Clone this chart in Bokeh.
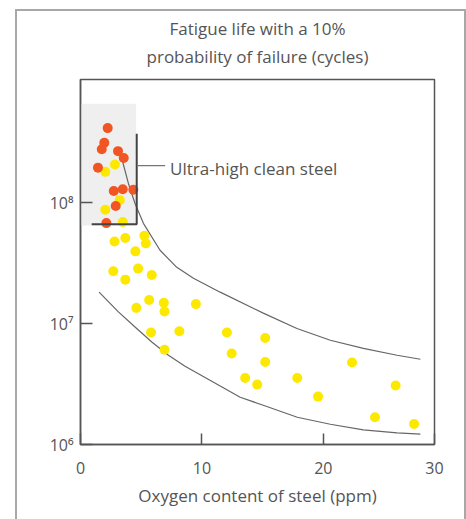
from bokeh.plotting import figure
from bokeh.models import Range1d, FixedTicker, Label, Title
from bokeh.embed import file_html
from bokeh.resources import INLINE

# ---- data ----
TITLE_LINES = ["Fatigue life with a 10%", "probability of failure (cycles)"]
X_LABEL = "Oxygen content of steel (ppm)"
ANNOT_TEXT = "Ultra-high clean steel"

X_TICKS = [0, 10, 20]
X_END = 29.15
X_TICK_LABELS = ["0", "10", "20", "30"]
Y_TICKS = [1e6, 1e7, 1e8]
Y_TICK_LABELS = ["10\u2076", "10\u2077", "10\u2078"]
Y_START = 1e6
Y_END = 1.045e9

ORANGE_PPM = [2.24, 1.96, 1.75, 3.09, 3.56, 1.44, 2.74, 3.48, 4.35, 2.90, 2.13]
ORANGE_CYCLES = [4.14e8, 3.13e8, 2.77e8, 2.67e8, 2.34e8, 1.95e8, 1.25e8, 1.29e8,
                 1.28e8, 9.4e7, 6.78e7]

YELLOW_PPM = [2.84, 2.04, 3.23, 2.04, 3.48, 2.80, 3.69, 5.26, 5.38, 4.52,
              2.70, 4.74, 3.69, 5.87, 5.65, 6.86, 4.60, 6.92, 9.50, 5.81,
              8.14, 12.06, 6.92, 12.45, 15.21, 15.21, 13.56, 14.55, 17.85, 19.56,
              22.36, 25.95, 24.25, 27.47]
YELLOW_CYCLES = [2.07e8, 1.80e8, 1.05e8, 8.75e7, 6.93e7, 4.78e7, 5.10e7, 5.33e7, 4.61e7, 3.96e7,
                 2.71e7, 2.85e7, 2.31e7, 2.52e7, 1.57e7, 1.49e7, 1.35e7, 1.26e7, 1.45e7, 8.43e6,
                 8.64e6, 8.43e6, 6.07e6, 5.65e6, 7.60e6, 4.82e6, 3.55e6, 3.13e6, 3.55e6, 2.49e6,
                 4.76e6, 3.08e6, 1.68e6, 1.48e6]

UPPER_PPM = [3.40, 3.94, 4.49, 5.18, 6.55, 7.93, 9.30, 11.50, 15.05, 17.82,
             20.57, 23.29, 26.07, 27.99]
UPPER_CYCLES = [2.32e8, 1.45e8, 9.86e7, 6.75e7, 4.04e7, 2.92e7, 2.37e7, 1.82e7,
                1.22e7, 9.1e6, 7.28e6, 6.24e6, 5.47e6, 5.07e6]
LOWER_PPM = [1.53, 3.12, 4.49, 5.87, 7.24, 8.61, 13.15, 15.05, 17.85, 20.57,
             23.29, 26.07, 27.99]
LOWER_CYCLES = [1.82e7, 1.25e7, 9.38e6, 7.05e6, 5.47e6, 4.44e6, 2.46e6, 2.11e6,
                1.68e6, 1.47e6, 1.32e6, 1.25e6, 1.22e6]

# clean-steel region
REGION_PPM = [0.0, 4.58]
REGION_CYCLES = [6.49e7, 6.58e8]
BRACKET_PPM = [0.92, 4.63, 4.63]
BRACKET_CYCLES = [6.62e7, 6.62e7, 3.72e8]
CONNECT_PPM = [4.68, 6.97]
CONNECT_CYCLES = [2.03e8, 2.03e8]

FONT = "Open Sans"
TXT = "#555555"
BORDER = "2px solid #a8a8a8"
FS = "17px"

p = figure(x_range=Range1d(0, X_END), y_range=Range1d(Y_START, Y_END),
           y_axis_type="log", frame_width=354, frame_height=365,
           min_border_left=63, min_border_right=30, min_border_top=68,
           min_border_bottom=75, output_backend="svg", toolbar_location=None,
           title=None)
p.margin = (9, 0, 0, 15)
p.styles = {"border-left": BORDER, "border-top": BORDER, "border-right": BORDER}
p.background_fill_color = "white"
p.border_fill_color = "white"
p.outline_line_color = "#555555"
p.outline_line_width = 1.5
p.grid.visible = False

# two-line title (the later title is placed further from the frame)
p.add_layout(Title(text=TITLE_LINES[1], align="center", text_font=FONT,
                   text_font_size=FS, text_color=TXT, text_font_style="normal",
                   standoff=24), "above")
p.add_layout(Title(text=TITLE_LINES[0], align="center", text_font=FONT,
                   text_font_size=FS, text_color=TXT, text_font_style="normal",
                   standoff=-19), "above")

# shaded region
p.quad(left=[REGION_PPM[0]], right=[REGION_PPM[1]], bottom=[REGION_CYCLES[0]],
       top=[REGION_CYCLES[1]], fill_color="#efefef", line_color=None)

# curves
p.line(UPPER_PPM, UPPER_CYCLES, line_color="#666666", line_width=1.2)
p.line(LOWER_PPM, LOWER_CYCLES, line_color="#666666", line_width=1.2)

# points
p.scatter(YELLOW_PPM, YELLOW_CYCLES, size=10, fill_color="#fde800", line_color=None)
p.scatter(ORANGE_PPM, ORANGE_CYCLES, size=10, fill_color="#f05523", line_color=None)

# bracket + connector
p.line(BRACKET_PPM, BRACKET_CYCLES, line_color="#444444", line_width=2)
p.line(CONNECT_PPM, CONNECT_CYCLES, line_color="#777777", line_width=1.3)

p.add_layout(Label(x=7.38, y=1.91e8, text=ANNOT_TEXT, text_font=FONT,
                   text_font_size=FS, text_color=TXT,
                   text_baseline="alphabetic", text_align="left"))

# axes
xa = p.xaxis[0]
xa.ticker = FixedTicker(ticks=X_TICKS + [X_END])
xa.major_label_overrides = {t: l for t, l in zip(X_TICKS + [X_END], X_TICK_LABELS)}
xa.axis_label = X_LABEL
ya = p.yaxis[0]
ya.ticker = FixedTicker(ticks=Y_TICKS)
ya.major_label_overrides = {t: l for t, l in zip(Y_TICKS, Y_TICK_LABELS)}

for ax in (xa, ya):
    ax.axis_line_color = "#555555"
    ax.axis_line_width = 1.5
    ax.major_tick_line_color = "#555555"
    ax.major_tick_line_width = 1.5
    ax.major_tick_out = 0
    ax.minor_tick_line_color = None
    ax.major_label_text_font = FONT
    ax.major_label_text_font_size = "16px"
    ax.major_label_text_color = TXT
    ax.axis_label_text_font = FONT
    ax.axis_label_text_font_size = FS
    ax.axis_label_text_font_style = "normal"
    ax.axis_label_text_color = TXT

xa.major_tick_in = 11
xa.major_label_standoff = 17
xa.axis_label_standoff = 7
ya.major_tick_in = 12
ya.major_label_standoff = 7

open("out.html", "w").write(file_html(p, INLINE))
